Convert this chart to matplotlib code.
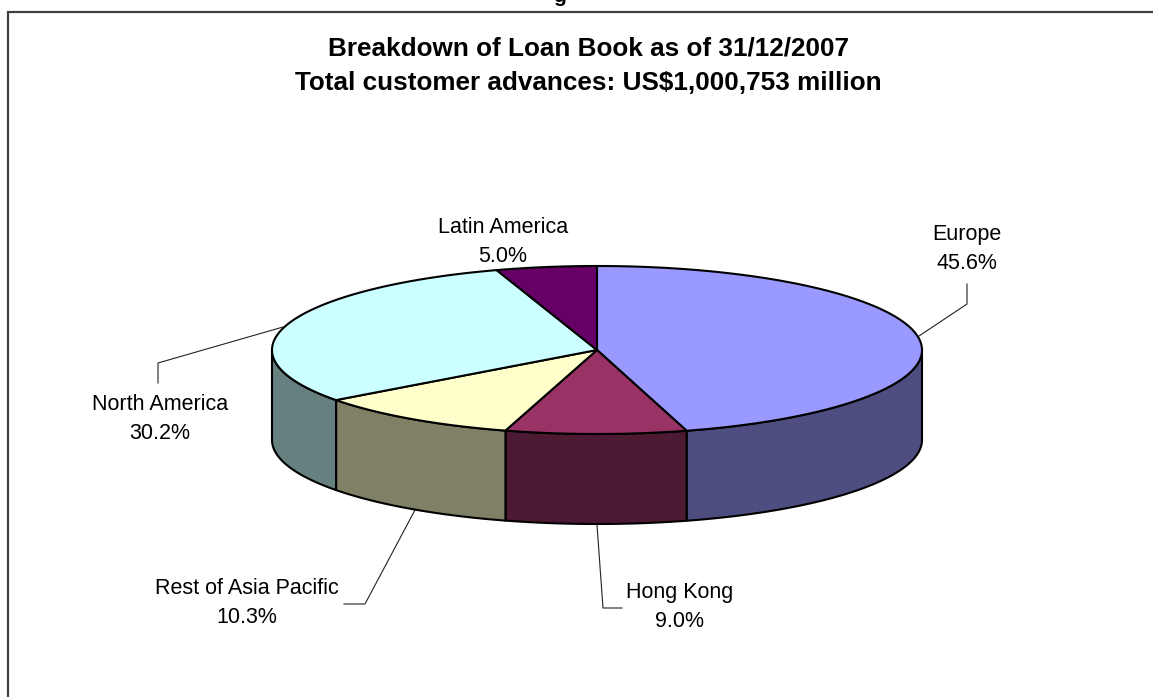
import matplotlib
matplotlib.use('Agg')
import matplotlib.pyplot as plt
import numpy as np
from matplotlib.patches import Polygon

plt.rcParams['font.family'] = ['Liberation Sans', 'DejaVu Sans']

regions = ['Europe', 'Hong Kong', 'Rest of Asia Pacific', 'North America', 'Latin America']
shares = [45.6, 9.0, 10.3, 30.2, 5.0]
top_colors = ['#9999FF', '#993366', '#FFFFCC', '#CCFFFF', '#660066']
side_colors = ['#4D4D80', '#4D1A33', '#808066', '#668080', '#330033']

title_lines = ['Breakdown of Loan Book as of 31/12/2007',
               'Total customer advances: US$1,000,753 million']

# pie geometry, in pixels
cx, cy = 597, 350
rx, ry = 325, 84
depth = 90

# label centre and leader line for each region
label_pos = [(967, 249), (680, 607), (247, 603), (160, 419), (503, 242)]
leaders = [
    [(919, 336), (967, 304), (967, 284)],
    [(597, 525), (603, 608), (622, 608)],
    [(415, 510), (365, 604), (344, 604)],
    [(283, 327), (158, 363), (158, 383)],
    None,
]


def rim(t):
    # t is clockwise from the top of the ellipse, in radians
    return cx + rx * np.sin(t), cy - ry * np.cos(t)


fig = plt.figure(figsize=(11.53, 6.97), dpi=100)
ax = fig.add_axes([0, 0, 1, 1])
ax.set_xlim(0, 1153)
ax.set_ylim(697, 0)
ax.axis('off')

# chart frame, open on the right and at the bottom
ax.plot([8, 8, 1153], [697, 12, 12], color='#404040', lw=1.6, solid_joinstyle='miter')
# heading above the frame, only its descender is inside the page
ax.text(560, 2, 'g', fontsize=15, fontweight='bold', ha='center', va='baseline', color='black')

edges = np.cumsum([0] + shares) / sum(shares) * 2 * np.pi

# outer wall, only the part facing the viewer
for i in range(len(shares)):
    a = max(edges[i], np.pi / 2)
    b = min(edges[i + 1], 3 * np.pi / 2)
    if a >= b:
        continue
    t = np.linspace(a, b, 120)
    x, y = rim(t)
    pts = np.r_[np.c_[x, y], np.c_[x[::-1], y[::-1] + depth]]
    ax.add_patch(Polygon(pts, closed=True, facecolor=side_colors[i], edgecolor='black',
                         lw=1.5, joinstyle='round', zorder=2))

# top face
for i in range(len(shares)):
    t = np.linspace(edges[i], edges[i + 1], 200)
    x, y = rim(t)
    pts = np.r_[[[cx, cy]], np.c_[x, y]]
    ax.add_patch(Polygon(pts, closed=True, facecolor=top_colors[i], edgecolor='black',
                         lw=1.5, joinstyle='round', zorder=3))

for i, name in enumerate(regions):
    lx, ly = label_pos[i]
    ax.text(lx, ly, f'{name}\n{shares[i]:.1f}%', fontsize=15.5, ha='center', va='center',
            linespacing=1.55, color='black', zorder=5)
    if leaders[i] is not None:
        xs, ys = zip(*leaders[i])
        ax.plot(xs, ys, color='#222222', lw=0.8, zorder=1)

ax.text(589, 56, title_lines[0], fontsize=18.8, fontweight='bold', ha='center', va='baseline')
ax.text(588, 90, title_lines[1], fontsize=18.8, fontweight='bold', ha='center', va='baseline')

fig.savefig('out.png', dpi=100)
